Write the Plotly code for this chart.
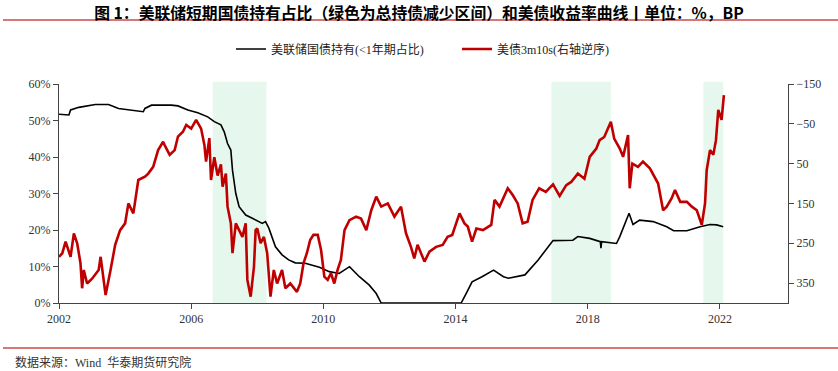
import plotly.graph_objects as go

# ---- data ----
fed_years = [2002.0, 2002.3, 2002.35, 2002.6, 2003.1, 2003.5, 2003.8, 2004.4, 2004.55, 2004.6,
             2004.8, 2005.4, 2005.6, 2005.9, 2006.2, 2006.5, 2006.7, 2006.9, 2007.0, 2007.1,
             2007.2, 2007.25, 2007.35, 2007.45, 2007.65, 2007.85, 2008.15, 2008.25, 2008.35, 2008.55,
             2008.75, 2008.95, 2009.15, 2009.45, 2009.6, 2009.88, 2010.18, 2010.48, 2010.79, 2011.09,
             2011.39, 2011.6, 2011.75, 2014.17, 2014.32, 2014.5, 2014.8, 2015.15, 2015.45, 2015.6,
             2016.1, 2016.5, 2016.95, 2017.15, 2017.55, 2017.7, 2018.06, 2018.38, 2018.4, 2018.42,
             2018.87, 2018.97, 2019.12, 2019.25, 2019.37, 2019.57, 2019.98, 2020.39, 2020.6, 2021.0,
             2021.4, 2021.7, 2021.9, 2022.1]
fed_share = [51.7, 51.5, 52.9, 53.6, 54.4, 54.4, 53.3, 52.7, 52.4, 53.3,
             54.2, 54.2, 54.0, 52.9, 52.1, 51.0, 49.7, 48.8, 46.9, 43.7,
             41.9, 36.4, 30.0, 26.4, 24.1, 23.2, 21.8, 22.3, 20.5, 15.4,
             13.2, 11.8, 11.0, 10.9, 10.5, 9.8, 8.6, 8.1, 9.95, 7.2,
             4.9, 2.6, 0.0, 0.0, 2.6, 5.8, 7.2, 9.0, 7.2, 6.8,
             7.7, 11.8, 17.1, 17.2, 17.2, 18.2, 17.7, 16.8, 15.0, 16.8,
             16.3, 18.2, 21.8, 24.6, 21.5, 22.7, 22.3, 20.9, 19.8, 19.8,
             20.9, 21.5, 21.4, 20.9]

spread_years = [2002.0, 2002.1, 2002.2, 2002.3, 2002.35, 2002.45, 2002.55, 2002.65, 2002.7, 2002.75,
                2002.85, 2003.0, 2003.2, 2003.26, 2003.36, 2003.41, 2003.56, 2003.7, 2003.85, 2004.0,
                2004.1, 2004.25, 2004.4, 2004.6, 2004.7, 2004.85, 2005.0, 2005.15, 2005.2, 2005.35,
                2005.5, 2005.6, 2005.75, 2005.85, 2006.0, 2006.15, 2006.3, 2006.4, 2006.45, 2006.55,
                2006.6, 2006.7, 2006.8, 2006.9, 2006.95, 2007.05, 2007.1, 2007.2, 2007.25, 2007.35,
                2007.45, 2007.55, 2007.65, 2007.7, 2007.8, 2007.9, 2007.95, 2008.0, 2008.1, 2008.2,
                2008.3, 2008.4, 2008.5, 2008.6, 2008.75, 2008.85, 2009.0, 2009.2, 2009.3, 2009.4,
                2009.5, 2009.6, 2009.7, 2009.83, 2009.93, 2010.03, 2010.13, 2010.23, 2010.33, 2010.43,
                2010.53, 2010.64, 2010.79, 2010.99, 2011.14, 2011.3, 2011.45, 2011.6, 2011.75, 2011.95,
                2012.15, 2012.35, 2012.5, 2012.65, 2012.75, 2012.85, 2013.06, 2013.21, 2013.41, 2013.61,
                2013.76, 2013.9, 2014.12, 2014.27, 2014.37, 2014.5, 2014.63, 2014.83, 2015.08, 2015.18,
                2015.33, 2015.58, 2015.73, 2015.88, 2016.03, 2016.18, 2016.33, 2016.53, 2016.73, 2016.95,
                2017.15, 2017.35, 2017.5, 2017.7, 2017.9, 2018.06, 2018.26, 2018.36, 2018.5, 2018.7,
                2018.8, 2018.97, 2019.07, 2019.22, 2019.27, 2019.35, 2019.52, 2019.67, 2019.88, 2020.13,
                2020.28, 2020.39, 2020.54, 2020.64, 2020.8, 2021.0, 2021.15, 2021.3, 2021.45, 2021.55,
                2021.6, 2021.7, 2021.8, 2021.88, 2021.95, 2022.05, 2022.12]
spread_bp = [284, 275, 246, 271, 284, 225, 250, 300, 363, 317,
             351, 339, 317, 284, 359, 380, 317, 254, 217, 200,
             150, 175, 91, 83, 75, 58, 16, -5, 4, 28,
             16, -18, -30, -47, -38, -60, -38, 3, 45, -14,
             91, 34, 80, 52, 108, 75, 158, 200, 275, 200,
             217, 234, 200, 342, 384, 309, 217, 213, 250, 234,
             275, 384, 317, 351, 317, 363, 351, 372, 351, 300,
             275, 242, 229, 229, 267, 334, 342, 325, 351, 317,
             292, 217, 192, 183, 188, 217, 167, 133, 158, 150,
             183, 158, 225, 259, 288, 254, 296, 271, 259, 254,
             234, 229, 175, 200, 208, 246, 213, 217, 204, 141,
             158, 112, 129, 150, 200, 196, 141, 112, 121, 102,
             131, 104, 96, 75, 88, 33, 12, -9, -17, -55,
             -13, 12, 33, -22, 112, 50, 58, 45, 62, 100,
             167, 158, 137, 116, 146, 146, 158, 167, 204, 150,
             66, 16, 28, -9, -85, -60, -122]

shade_periods = [(2006.65, 2008.28), (2016.9, 2018.7), (2021.5, 2022.1)]

year_ticks = [2002, 2006, 2010, 2014, 2018, 2022]
left_ticks = [0, 10, 20, 30, 40, 50, 60]
right_ticks = [-150, -50, 50, 150, 250, 350]

title_text = "图 1：美联储短期国债持有占比（绿色为总持债减少区间）和美债收益率曲线丨单位：%，BP"
source_text = "数据来源：Wind  华泰期货研究院"

SERIF = "Liberation Serif, Noto Sans CJK SC, serif"
CJK = "Noto Sans CJK SC, sans-serif"

fig = go.Figure()
fig.add_trace(go.Scatter(x=fed_years, y=fed_share, mode="lines", name="美联储国债持有(<1年期占比)",
                         line=dict(color="#000000", width=1.6), yaxis="y"))
fig.add_trace(go.Scatter(x=spread_years, y=spread_bp, mode="lines", name="美债3m10s(右轴逆序)",
                         line=dict(color="#c00000", width=2.6), yaxis="y2"))

shapes = []
for a, b in shade_periods:
    shapes.append(dict(type="rect", xref="x", yref="paper", x0=a, x1=b, y0=0, y1=1.01,
                       fillcolor="#e6f7ed", line=dict(width=0), layer="below"))
# red separator lines
W = 729.0
H = 219.0
shapes.append(dict(type="line", xref="paper", yref="paper", x0=(3 - 59) / W, x1=(838 - 59) / W,
                   y0=(303 - 20) / H, y1=(303 - 20) / H, line=dict(color="#d47878", width=2)))
shapes.append(dict(type="line", xref="paper", yref="paper", x0=(3 - 59) / W, x1=(838 - 59) / W,
                   y0=(303 - 348) / H, y1=(303 - 348) / H, line=dict(color="#d47878", width=2)))

fig.update_layout(
    width=838, height=371,
    margin=dict(l=59, r=50, t=84, b=68, autoexpand=False),
    paper_bgcolor="white", plot_bgcolor="white",
    showlegend=True,
    legend=dict(orientation="h", x=(231 - 59) / W, xanchor="left", y=(303 - 49) / H, yanchor="middle",
                font=dict(family=SERIF, size=12, color="#222"), itemwidth=30,
                entrywidth=181, entrywidthmode="pixels",
                bgcolor="rgba(0,0,0,0)"),
    title=dict(text="<b>" + title_text + "</b>", x=0.5, xanchor="center", xref="container",
               y=1 - 13 / 371, yanchor="middle", yref="container",
               font=dict(family=CJK, size=15.8, color="#000")),
    xaxis=dict(range=[2002, 2024.06], tickvals=year_ticks, ticktext=[str(t) for t in year_ticks],
               showgrid=False, zeroline=False, showline=True, linecolor="#444", linewidth=1,
               ticks="outside", ticklen=5, tickcolor="#444",
               tickfont=dict(family=SERIF, size=12, color="#333")),
    yaxis=dict(range=[0, 60], tickvals=left_ticks, ticktext=[f"{t}%" for t in left_ticks],
               showgrid=False, zeroline=False, showline=True, linecolor="#444", linewidth=1,
               ticks="outside", ticklen=5, tickcolor="#444",
               tickfont=dict(family=SERIF, size=12, color="#333")),
    yaxis2=dict(range=[400, -150], overlaying="y", side="right", tickvals=right_ticks,
                showgrid=False, zeroline=False, showline=True, linecolor="#444", linewidth=1,
                ticks="outside", ticklen=5, tickcolor="#444",
                tickfont=dict(family=SERIF, size=12, color="#333")),
    shapes=shapes,
    annotations=[dict(text=source_text, xref="paper", yref="paper", x=(13 - 59) / W, y=(303 - 362) / H,
                      xanchor="left", yanchor="middle", showarrow=False,
                      font=dict(family=SERIF, size=12, color="#333"))],
)

fig.write_html("out.html", config={"displayModeBar": False},
               post_script="document.body.style.margin='0';")
